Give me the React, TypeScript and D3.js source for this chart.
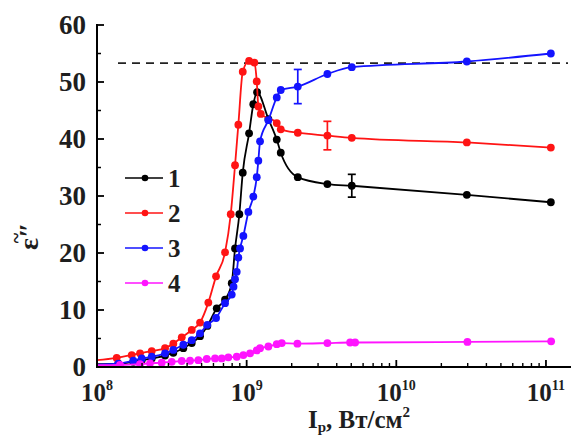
import React from 'react';
import * as d3 from 'd3';

const W = 573;
const H = 435;

// Series 1 (black)
const s1I = [9.0e7, 1.388e8, 1.748e8, 1.99e8, 2.321e8, 2.848e8, 3.236e8, 3.775e8, 4.296e8, 4.882e8, 5.462e8, 6.312e8, 7.171e8, 7.95e8, 8.364e8, 8.936e8, 9.417e8, 1.038e9, 1.108e9, 1.174e9, 1.397e9, 1.589e9, 1.69e9, 2.196e9, 3.463e9, 5.041e9, 2.96e10, 1.078e11];
const s1V = [0.5, 0.6, 0.9, 1.2, 1.5, 2.0, 2.5, 3.3, 4.2, 5.4, 7.2, 10.3, 11.8, 14.7, 20.8, 26.8, 34.1, 41.0, 46.1, 48.2, 43.5, 39.9, 37.6, 33.3, 32.1, 31.8, 30.2, 28.9];

// Series 2 (red)
const s2I = [9.0e7, 1.354e8, 1.706e8, 1.938e8, 2.321e8, 2.848e8, 3.236e8, 3.684e8, 4.296e8, 4.882e8, 5.546e8, 6.245e8, 7.171e8, 7.829e8, 8.364e8, 8.799e8, 9.417e8, 1.038e9, 1.126e9, 1.168e9, 1.197e9, 1.243e9, 1.589e9, 1.69e9, 2.196e9, 3.463e9, 5.041e9, 2.96e10, 1.078e11];
const s2V = [1.1, 1.6, 2.1, 2.4, 2.8, 3.3, 4.1, 5.2, 6.5, 7.8, 11.3, 15.9, 20.1, 26.8, 35.4, 42.5, 51.8, 53.7, 53.4, 50.1, 45.7, 44.4, 42.8, 41.7, 41.1, 40.6, 40.2, 39.4, 38.5];

// Series 3 (blue)
const s3I = [9.0e7, 1.388e8, 1.748e8, 1.99e8, 2.321e8, 2.848e8, 3.236e8, 3.775e8, 4.296e8, 4.882e8, 5.462e8, 6.245e8, 7.171e8, 7.95e8, 8.173e8, 8.364e8, 8.585e8, 8.799e8, 9.034e8, 9.504e8, 1.027e9, 1.108e9, 1.168e9, 1.197e9, 1.229e9, 1.397e9, 1.589e9, 1.69e9, 2.196e9, 3.463e9, 5.041e9, 2.96e10, 1.078e11];
const s3V = [0.4, 0.6, 1.1, 1.5, 1.8, 2.4, 3.0, 3.9, 4.7, 5.9, 7.4, 8.6, 11.2, 12.7, 14.1, 15.4, 16.7, 19.2, 20.8, 23.0, 27.2, 29.9, 33.3, 36.2, 39.6, 43.3, 47.3, 48.6, 49.2, 51.4, 52.6, 53.6, 55.0];

// Series 4 (magenta)
const s4I = [9.0e7, 1.425e8, 1.938e8, 2.262e8, 2.707e8, 3.157e8, 3.684e8, 4.184e8, 4.755e8, 5.412e8, 6.15e8, 6.818e8, 7.545e8, 8.585e8, 9.504e8, 1.054e9, 1.168e9, 1.229e9, 1.397e9, 1.589e9, 1.716e9, 2.183e9, 3.463e9, 4.912e9, 5.304e9, 2.987e10, 1.083e11];
const s4V = [0.3, 0.35, 0.5, 0.65, 0.75, 0.9, 1.05, 1.1, 1.2, 1.4, 1.5, 1.5, 1.7, 1.8, 2.1, 2.4, 2.9, 3.3, 3.6, 4.0, 4.2, 4.1, 4.2, 4.3, 4.3, 4.4, 4.5];

// Error bars: series index, intensity, value, half-range
const errSeries = [2, 1, 0];
const errI = [2.196e9, 3.463e9, 5.041e9];
const errV = [49.2, 40.6, 31.8];
const errD = [3.0, 2.5, 2.0];

// Saturation level (dashed line)
const levelV = 53.3;

const legendLabels = ['1', '2', '3', '4'];
const colors = ['#000000', '#ff1414', '#1414ff', '#ff14ff'];

const yTicks = [0, 10, 20, 30, 40, 50, 60];
const yMinor = [5, 15, 25, 35, 45, 55];
const xDecades = [8, 9, 10, 11];

const seriesList = [
  { I: s1I, V: s1V },
  { I: s2I, V: s2V },
  { I: s3I, V: s3V },
  { I: s4I, V: s4V },
];

const x = d3.scaleLog().domain([1e8, 1.47e11]).range([97, 571]);
const y = d3.scaleLinear().domain([0, 60]).range([367, 25]);

const font = "'Liberation Serif', 'Times New Roman', serif";
const ink = '#1e1e1e';

export default function App() {
  const line = d3
    .line<[number, number]>()
    .x((d) => x(d[0]))
    .y((d) => y(d[1]))
    .curve(d3.curveMonotoneX);

  const minorX: number[] = [];
  for (let e = 8; e <= 11; e++) {
    for (let m = 2; m <= 9; m++) {
      const v = m * Math.pow(10, e);
      if (v <= 1.47e11) minorX.push(v);
    }
  }

  const x0 = x.range()[0];
  const x1 = x.range()[1];
  const y0 = y(0);

  return (
    <svg
      width={W}
      height={H}
      style={{ position: 'absolute', left: 0, top: 0, background: '#fff', fontFamily: font }}
    >
      <defs>
        <clipPath id="plot">
          <rect x={x0} y={0} width={x1 - x0 + 2} height={y0} />
        </clipPath>
      </defs>

      {/* dashed saturation level */}
      <line
        x1={118}
        x2={568}
        y1={y(levelV)}
        y2={y(levelV)}
        stroke="#222"
        strokeWidth={1.8}
        strokeDasharray="8,6"
      />

      <g clipPath="url(#plot)">
        {seriesList.map((s, i) => (
          <g key={i}>
            <path
              d={line(s.I.map((v, k) => [v, s.V[k]] as [number, number])) || ''}
              fill="none"
              stroke={colors[i]}
              strokeWidth={1.8}
            />
            {s.I.map((v, k) => (
              <circle key={k} cx={x(v)} cy={y(s.V[k])} r={3.9} fill={colors[i]} />
            ))}
          </g>
        ))}
        {errI.map((v, k) => {
          const cx = x(v);
          const c = colors[errSeries[k]];
          const top = y(errV[k] + errD[k]);
          const bot = y(errV[k] - errD[k]);
          return (
            <g key={k} stroke={c} strokeWidth={1.7}>
              <line x1={cx} x2={cx} y1={top} y2={bot} />
              <line x1={cx - 4} x2={cx + 4} y1={top} y2={top} />
              <line x1={cx - 4} x2={cx + 4} y1={bot} y2={bot} />
            </g>
          );
        })}
      </g>

      {/* y axis */}
      <line x1={x0} x2={x0} y1={y(60) - 1} y2={y0 + 1} stroke="#000" strokeWidth={2} />
      {yTicks.map((t) => (
        <g key={t}>
          <line x1={x0} x2={x0 + 7} y1={y(t)} y2={y(t)} stroke="#000" strokeWidth={1.8} />
          <text
            x={86}
            y={y(t)}
            dy="0.35em"
            textAnchor="end"
            fontSize={27}
            fontWeight="bold"
            fill={ink}
          >
            {t}
          </text>
        </g>
      ))}
      {yMinor.map((t) => (
        <line key={t} x1={x0} x2={x0 + 4} y1={y(t)} y2={y(t)} stroke="#000" strokeWidth={1.5} />
      ))}

      {/* x axis */}
      <line x1={x0 - 1} x2={x1} y1={y0} y2={y0} stroke="#000" strokeWidth={2} />
      {xDecades.map((e) => (
        <g key={e}>
          <line
            x1={x(Math.pow(10, e))}
            x2={x(Math.pow(10, e))}
            y1={y0}
            y2={y0 - 7}
            stroke="#000"
            strokeWidth={1.8}
          />
          <text
            x={x(Math.pow(10, e))}
            y={401}
            textAnchor="middle"
            fontSize={25}
            fontWeight="bold"
            fill={ink}
          >
            10
            <tspan fontSize={14} dy={-11}>
              {e}
            </tspan>
          </text>
        </g>
      ))}
      {minorX.map((v) => (
        <line key={v} x1={x(v)} x2={x(v)} y1={y0} y2={y0 - 4} stroke="#000" strokeWidth={1.4} />
      ))}

      {/* axis titles */}
      <text x={359} y={428} textAnchor="middle" fontSize={25} fontWeight="bold" fill={ink}>
        I
        <tspan fontSize={15} dy={4}>
          p
        </tspan>
        <tspan dy={-4}>, Вт/см</tspan>
        <tspan fontSize={15} dy={-11}>
          2
        </tspan>
      </text>
      <g transform="translate(38,234) rotate(-90)" fill={ink} fontWeight="bold">
        <text x={-16} y={0} fontSize={28}>
          {'\u03B5\u2033'}
        </text>
        <text x={-4} y={-15} textAnchor="middle" fontSize={20}>
          ~
        </text>
      </g>

      {/* legend */}
      {legendLabels.map((lab, i) => {
        const ly = 178 + i * 35;
        return (
          <g key={lab}>
            <line x1={125} x2={163} y1={ly} y2={ly} stroke={colors[i]} strokeWidth={1.7} />
            <circle cx={145} cy={ly} r={3.3} fill={colors[i]} />
            <text x={168} y={ly} dy="0.35em" fontSize={25} fontWeight="bold" fill={ink}>
              {lab}
            </text>
          </g>
        );
      })}
    </svg>
  );
}
